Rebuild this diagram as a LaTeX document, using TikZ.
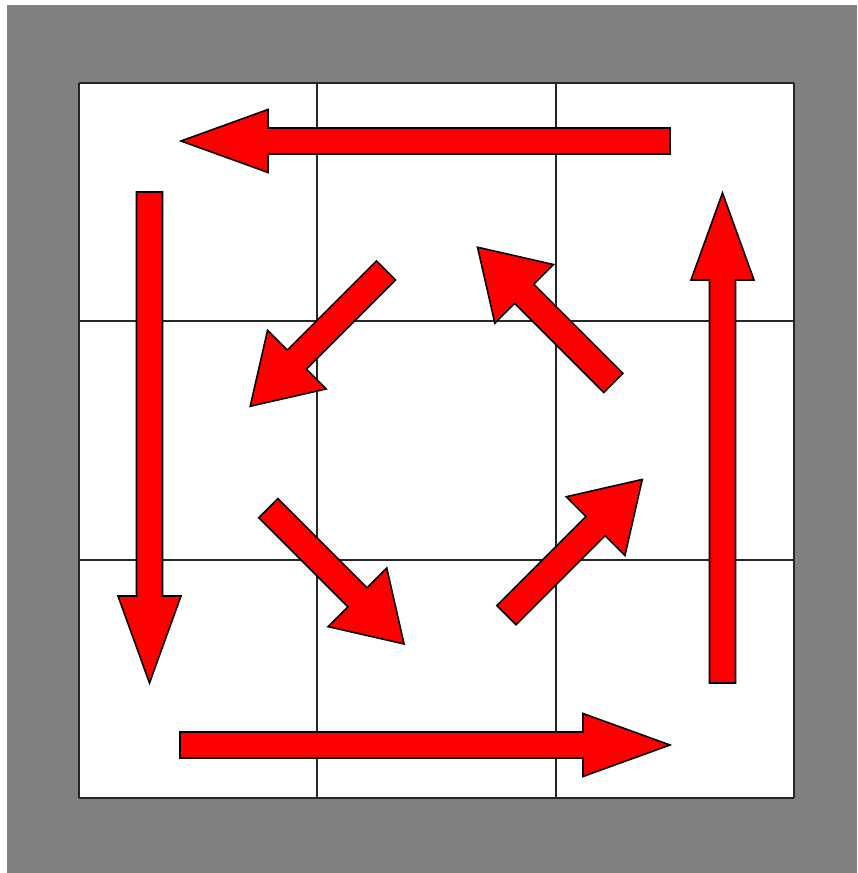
\documentclass[tikz,border=0pt]{standalone}
\tikzset{
  flow/.style = {draw=black, fill=red, line width=1.6pt, line join=miter},
  gridline/.style = {draw=black!85, line width=2pt}
}
% arrow from tail #1, direction #2, length #3, shaft #4, head width #5, head length #6
\newcommand{\flowarrow}[6]{%
  \begin{scope}[shift={#1},rotate=#2]
    \draw[flow] (0,{-#4/2}) -- ({#3-#6},{-#4/2}) -- ({#3-#6},{-#5/2}) -- (#3,0)
      -- ({#3-#6},{#5/2}) -- ({#3-#6},{#4/2}) -- (0,{#4/2}) -- cycle;
  \end{scope}}

\begin{document}
\begin{tikzpicture}[x=1pt,y=1pt]
  \useasboundingbox (0,0) rectangle (857,873);
  \pgfmathsetmacro{\cell}{238.33};
  \pgfmathsetmacro{\xnull}{79};
  \pgfmathsetmacro{\ynull}{75};
  \fill[gray] (7,0) rectangle (857,868);
  \fill[white] (\xnull,\ynull) rectangle ++ ({3*\cell},{3*\cell});
  \foreach \i in {0,...,3} {
    \draw[gridline] ({\xnull+\i*\cell},\ynull) -- ++ (0,{3*\cell});
    \draw[gridline] (\xnull,{\ynull+\i*\cell}) -- ++ ({3*\cell},0);
  }
  % outer ring
  \flowarrow{(670,732)}{180}{489}{26}{63}{87}
  \flowarrow{(149.5,681)}{-90}{491}{26}{63}{87}
  \flowarrow{(180,128)}{0}{490}{26}{63}{87}
  \flowarrow{(722.5,190)}{90}{490}{26}{63}{87}
  % inner ring
  \flowarrow{(386,602.5)}{225}{192}{27}{83}{66}
  \flowarrow{(268.3,364.8)}{-45}{192}{27}{83}{66}
  \flowarrow{(506.5,257.8)}{45}{192}{27}{83}{66}
  \flowarrow{(613.3,490)}{135}{192}{27}{83}{66}
\end{tikzpicture}
\end{document}
